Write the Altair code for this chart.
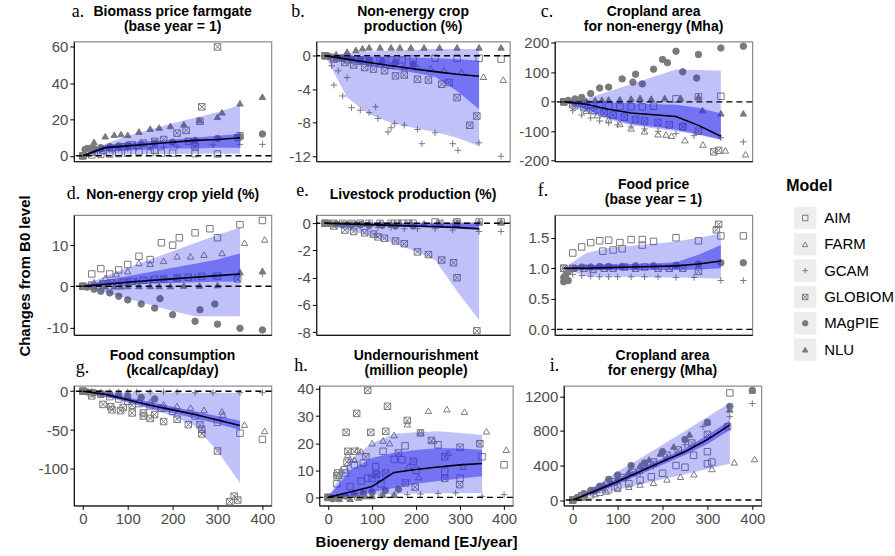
import altair as alt
import pandas as pd

MODELS = ["AIM", "FARM", "GCAM", "GLOBIOM", "MAgPIE", "NLU"]
SHAPES = ["square", "triangle-up", "M-1,0L1,0M0,-1L0,1",
          "M-1,-1L1,-1L1,1L-1,1Z M-1,-1L1,1 M-1,1L1,-1", "circle", "triangle-up"]
FILLS = ["transparent", "transparent", "transparent", "transparent", "#7a7a7a", "#7a7a7a"]
GRAY = "#7a7a7a"

# bioenergy demand (EJ/year) of each model's scenarios
X = {
    "AIM": [0, 20, 40, 60, 80, 100, 125, 150, 175, 200, 250, 300, 350, 400],
    "FARM": [0, 25, 50, 75, 100, 125, 150, 180, 210, 240, 270, 310, 360, 405],
    "GCAM": [0, 20, 40, 60, 80, 100, 120, 150, 180, 210, 250, 290, 350, 400],
    "GLOBIOM": [0, 20, 45, 65, 90, 110, 135, 160, 180, 210, 235, 265, 300, 345],
    "MAgPIE": [0, 10, 25, 40, 60, 80, 100, 130, 160, 200, 250, 300, 350, 400],
    "NLU": [0, 25, 50, 70, 85, 100, 125, 150, 170, 195, 225, 260, 300, 350, 400],
}
BAND_X = [0, 50, 100, 150, 200, 250, 300, 350]

# a. Biomass price farmgate
PTS_A = {
    "AIM": [0, 0.5, 0.8, 1.0, 1.2, 1.5, 2.3, 1.8, 1.5, 1.5, 1.2, 1.0, 11, None],
    "GCAM": [0, 2.5, 3, 3.5, 3.8, 4, 4.2, 4.5, 4.8, 5, 5.5, 6, 6.3, 6.3],
    "GLOBIOM": [0, 2, 3, 4, 5, 6, 7, 8, 9, 12.5, 8, 27, 60, 10],
    "MAgPIE": [0, 4, 4, 4.5, 5, 5.5, 6, 6.5, 7, 7.5, 8.5, 9.5, 10.5, 12],
    "NLU": [0, 7.7, 10.8, 11.6, 12, 11.6, 13.4, 15, 15.6, 16.5, 17.4, 19.7, 21.5, 29, 32.6],
}
EXTRA_A = [("GLOBIOM", 261, 19), ("GLOBIOM", 230, 14), ("NLU", 310, 24), ("MAgPIE", 5, 3.5),
           ("MAgPIE", 18, 4.2), ("AIM", 160, 3), ("GLOBIOM", 250, 5)]
BAND_A = {
    "outer_lo": [0, 0.5, 0.8, 1, 1, 1.2, 1.2, 1.2],
    "outer_hi": [0, 6.5, 11, 14.5, 18, 21, 24, 28],
    "inner_lo": [0, 2.5, 3, 3.5, 4, 4, 4.5, 4.5],
    "inner_hi": [0, 6, 7, 8, 9, 10, 11, 12],
    "median": [0, 4.5, 5.5, 6.5, 7.5, 8.5, 9, 10],
}

# b. Non-energy crop production (%)
PTS_B = {
    "AIM": [0, -0.2, -0.3, -0.5, -0.5, -0.6, -0.6, -0.5, -0.5, -0.4, -0.3, -0.3, -0.3, -0.4],
    "FARM": [0, -0.3, -0.5, -0.7, -0.9, -1.0, -1.2, -1.3, -1.4, -1.5, -1.7, -1.9, -2.5, -2.85],
    "GCAM": [0, -3.5, -4.8, -6.2, -6.5, -6.8, -7.5, -8.6, -8.3, -8.8, -9.2, -10.5, -10.4, -12],
    "GLOBIOM": [0, -0.4, -0.8, -1.1, -1.4, -1.6, -1.8, -2.4, -2.3, -2.8, -2.9, -3.4, -5.0, -7.2],
    "MAgPIE": [0, -0.1, -0.2, -0.3, -0.4, -0.5, -0.6, -0.7, -0.8, -1.0, None, None, None, None],
    "NLU": [0, 0.2, 0.5, 0.7, 0.9, 1, 1, 1, 1, 1, 1, 1, 1, 1, 1],
}
EXTRA_B = [("GCAM", 15, -1.2), ("GCAM", 30, -1.8), ("GCAM", 50, -2.6), ("GCAM", 115, -6.1),
           ("GCAM", 143, -9.1), ("GCAM", 158, -8.1), ("GCAM", 220, -10.5), ("GCAM", 302, -11.3),
           ("GLOBIOM", 329, -8.3), ("GLOBIOM", 282, -3.2)]
BAND_B = {
    "outer_lo": [0, -5, -7, -8, -8.6, -9.1, -9.8, -10.8],
    "outer_hi": [0, 0.3, 0.5, 0.6, 0.7, 0.8, 0.8, 0.8],
    "inner_lo": [0, -0.6, -1.2, -1.6, -2.0, -2.5, -4.2, -6.4],
    "inner_hi": [0, 0, -0.1, -0.1, -0.2, -0.3, -0.4, -0.6],
    "median": [0, -0.4, -0.8, -1.2, -1.55, -1.9, -2.2, -2.45],
}

# c. Cropland area for non-energy (Mha)
PTS_C = {
    "AIM": [0, -3, -6, -9, -12, -14, -16, -17, -17, -15, 10, 17, 19, None],
    "FARM": [0, -15, -30, -45, -60, -75, -90, -100, -110, -115, -130, -145, -165, -178],
    "GCAM": [0, -30, -45, -55, -65, -72, -78, -85, -92, -100, -108, -115, -122, -136],
    "GLOBIOM": [0, -10, -20, -30, -38, -45, -52, -60, -65, -70, -78, -85, -100, -165],
    "MAgPIE": [0, 5, 10, 15, 28, 47, 50, 78, 94, 111, 172, 161, 183, 189],
    "NLU": [0, 2, 4, 6, 7, 8, 9, 11, 13, 11, 13, 14, 17, -39, -39],
}
EXTRA_C = [("MAgPIE", 265, 102), ("MAgPIE", 296, 81), ("MAgPIE", 175, 61), ("MAgPIE", 154, 67),
           ("MAgPIE", 220, 144), ("MAgPIE", 231, 133), ("FARM", 228, -111), ("GLOBIOM", 334, -170),
           ("GLOBIOM", 265, -83), ("NLU", 309, -28)]
BAND_C = {
    "outer_lo": [0, -35, -60, -80, -90, -100, -112, -130],
    "outer_hi": [0, 10, 35, 60, 85, 110, 108, 106],
    "inner_lo": [0, -25, -55, -75, -85, -95, -110, -128],
    "inner_hi": [0, 0, -2, -5, -8, -10, -20, -40],
    "median": [0, -8, -25, -38, -44, -50, -80, -117],
}

# d. Non-energy crop yield (%)
PTS_D = {
    "AIM": [0, 3, 4.3, 3, 4, 5.3, 7.3, 6.5, 10.6, 10, 13, 11.8, 15, 16],
    "FARM": [0, 1, 2, 3, 3.7, 5.7, 5.5, 6.2, 7.3, 7.3, 7.7, 8.1, 10.6, 11.4],
    "GCAM": [0, 0.3, 0.5, 0.8, 1, 1.2, 1.4, 1.6, 1.8, 2, 2.2, 2.5, 2.8, 3],
    "GLOBIOM": [0, 0.3, 0.6, 0.8, 1, 1.2, 1.5, 1.7, 1.8, 2.0, 2.2, 2.4, 2.5, 1.8],
    "MAgPIE": [0, -0.2, -0.7, -1.2, -1.6, -2.4, -3.3, -4.3, -5.3, -6.9, -8.5, -9.2, -10.2, -10.6],
    "NLU": [0, 0, 0, 0, 0, 0.1, 0.1, 0.1, 0.1, 0.1, 0.2, 0.2, 0.3, 3.5, 3.8],
}
EXTRA_D = [("MAgPIE", 172, -3), ("MAgPIE", 261, -5.7), ("MAgPIE", 294, -4.3), ("AIM", 283, 14),
           ("AIM", 215, 11.8)]
BAND_D = {
    "outer_lo": [0, -1.5, -3, -4.5, -6, -7.3, -7.3, -7.3],
    "outer_hi": [0, 2.5, 4.5, 6.5, 8.5, 10.5, 12.5, 14.3],
    "inner_lo": [0, 0.2, 0.4, 0.6, 0.8, 1, 1.1, 1.2],
    "inner_hi": [0, 1.5, 2.5, 3.5, 4.5, 5.5, 6.5, 8],
    "median": [0, 0.5, 1, 1.4, 1.8, 2.2, 2.6, 3],
}

# e. Livestock production (%)
PTS_E = {
    "AIM": [0, 0, 0, 0, 0, 0, 0, 0, 0, 0, 0.1, 0.1, 0.1, 0.1],
    "GCAM": [0, -0.1, -0.1, -0.2, -0.2, -0.2, -0.3, -0.3, -0.4, -0.4, -0.4, -0.5, -0.6, -0.6],
    "GLOBIOM": [0, -0.2, -0.5, -0.6, -0.7, -0.8, -1.1, -1.3, -1.5, -2.1, -2.3, -2.7, -4.0, -7.9],
    "MAgPIE": [0, 0, -0.05, -0.1, -0.1, -0.1, -0.15, -0.15, -0.2, -0.2, None, None, None, None],
    "NLU": [0, 0, 0, 0, 0, 0, 0, 0, 0, 0, 0, 0, 0.05, 0.1, 0.1],
}
EXTRA_E = [("GLOBIOM", 292, -2.9), ("GLOBIOM", 261, 0), ("GLOBIOM", 298, 0), ("GLOBIOM", 165, 0),
           ("GLOBIOM", 190, 0), ("GLOBIOM", 120, -1.0)]
BAND_E = {
    "outer_lo": [0, -0.5, -0.9, -1.4, -2.0, -2.7, -5.0, -7.1],
    "outer_hi": [0, 0.05, 0.05, 0.05, 0.05, 0.05, 0.1, 0.1],
    "inner_lo": [0, -0.1, -0.15, -0.2, -0.25, -0.3, -0.4, -0.5],
    "inner_hi": [0, 0, 0, 0, 0, 0, 0, 0],
    "median": [0, -0.05, -0.1, -0.15, -0.2, -0.25, -0.3, -0.4],
}

# f. Food price (base year = 1)
PTS_F = {
    "AIM": [1.0, 1.25, 1.35, 1.42, 1.45, 1.46, 1.42, 1.47, 1.47, 1.44, 1.50, 1.45, 1.53, 1.53],
    "GCAM": [1.0, 0.9, 0.88, 0.87, 0.86, 0.86, 0.86, 0.86, 0.86, 0.86, 0.85, 0.85, 0.80, 0.80],
    "GLOBIOM": [1.0, 1.0, 1.0, 0.98, 1.0, 1.0, 1.02, 1.0, 1.02, 1.0, 1.0, 1.0, 0.95, 1.72],
    "MAgPIE": [0.85, 0.95, 1.0, 1.02, 1.02, 1.03, 1.03, 1.03, 1.04, 1.04, 1.05, 1.07, 1.09, 1.09],
}
EXTRA_F = [("GLOBIOM", 340, 1.63), ("AIM", 87, 1.28), ("AIM", 110, 1.3), ("AIM", 130, 1.32),
           ("AIM", 175, 1.38), ("MAgPIE", 0, 0.78), ("MAgPIE", 5, 0.9), ("MAgPIE", 10, 0.8)]
BAND_F = {
    "outer_lo": [1.0, 0.87, 0.86, 0.86, 0.85, 0.85, 0.84, 0.83],
    "outer_hi": [1.0, 1.25, 1.33, 1.37, 1.4, 1.44, 1.5, 1.57],
    "inner_lo": [1.0, 0.97, 0.97, 0.97, 0.97, 0.97, 0.98, 1.0],
    "inner_hi": [1.0, 1.05, 1.06, 1.07, 1.08, 1.1, 1.22, 1.38],
    "median": [1.0, 1.0, 1.01, 1.02, 1.03, 1.04, 1.07, 1.12],
}

# g. Food consumption (kcal/cap/day)
PTS_G = {
    "AIM": [0, -2, -4, -7, -10, -13, -16, -19, -22, -26, -32, -40, -54, -62],
    "FARM": [0, -1, -3, -5, -8, -11, -14, -17, -19, -21, -24, -26, -43, -51],
    "GCAM": [0, 0, -1, -1, -1, -1, -1, -1, -1, -1, -2, -2, -2, -2],
    "GLOBIOM": [0, -6, -17, -24, -21, -28, -32, -30, -39, -36, -43, -49, -77, -140],
    "MAgPIE": [0, -1, -2, -3, -4, -5, -6, -8, -10, None, None, None, None, None],
}
EXTRA_G = [("GLOBIOM", 337, -135), ("GLOBIOM", 327, -142), ("GLOBIOM", 261, -43),
           ("GLOBIOM", 150, -35), ("GLOBIOM", 265, -55), ("GLOBIOM", 62, -20), ("GLOBIOM", 84, -25),
           ("GLOBIOM", 110, -18), ("GLOBIOM", 135, -28), ("FARM", 312, -30)]
BAND_G = {
    "outer_lo": [0, -7, -15, -23, -32, -45, -77, -118],
    "outer_hi": [0, -1, -2, -2, -2, -2, -2, -2],
    "inner_lo": [0, -6, -14, -22, -28, -35, -42, -50],
    "inner_hi": [0, -2, -8, -14, -20, -26, -32, -38],
    "median": [0, -4, -11, -18, -24, -30, -37, -44],
}

# h. Undernourishment (million people)
PTS_H = {
    "AIM": [0, 5, 9, 12, 12.7, 7, 17, 14, 19, 10, 19.4, 7.1, 15, 12],
    "FARM": [0, 8, 14, 17, 20, 21, 23, 27, 24, 21, 32.6, 31.6, 24.4, 17.6],
    "GCAM": [0, 0.2, 0.3, 0.4, 0.5, 0.5, 0.8, 1, 1, 1.2, 1.4, 1.6, 0.4, 1.0],
    "GLOBIOM": [0, 8, 17, 31, 39.5, 8.5, 33.6, 16.4, 28.4, 23.8, 21, 15, 18.5, 19.8],
    "MAgPIE": [0, -0.5, -0.5, 0.5, 1, 1.5, 2, 2.5, 3, None, None, None, None, None],
    "NLU": [0, -0.5, -0.5, 0, 0.5, 0.5, 1, 1, None, None, None, None, None, None, None],
}
EXTRA_H = [("GLOBIOM", 41, 24), ("GLOBIOM", 43, 13), ("GLOBIOM", 97, 24), ("GLOBIOM", 131, 24.4),
           ("GLOBIOM", 131, 9), ("GLOBIOM", 108, 8.4), ("GLOBIOM", 176, 5.3), ("GLOBIOM", 198, 3.8),
           ("GLOBIOM", 194, 13.3), ("GLOBIOM", 265, 7), ("GLOBIOM", 299, 4.7), ("GLOBIOM", 86, 15),
           ("GLOBIOM", 22, 9), ("GLOBIOM", 60, 17),
           ("FARM", 228, 32), ("FARM", 273, 16.4), ("FARM", 307, 11.4), ("FARM", 206, 7.5),
           ("FARM", 183, 11.4), ("FARM", 140, 20), ("FARM", 45, 15.8), ("FARM", 60, 13.9),
           ("FARM", 67, 17.6), ("FARM", 30, 10),
           ("AIM", 37, 10.2), ("AIM", 90, 7.1), ("AIM", 108, 11.4), ("AIM", 168, 13.9),
           ("AIM", 265, 9.6), ("AIM", 75, 6), ("AIM", 50, 4), ("AIM", 120, 5)]
BAND_H = {
    "outer_lo": [0, 0.5, 1, 1.2, 1.4, 1.5, 1.6, 1.6],
    "outer_hi": [0, 14, 20, 23.5, 24, 24.4, 23.8, 23],
    "inner_lo": [0, 0.5, 2, 3.5, 5, 6, 7, 7.8],
    "inner_hi": [0, 10, 14.5, 16.5, 17.5, 18.2, 18, 17.6],
    "median": [0, 2, 4, 9.2, 10.3, 11.2, 12, 12.5],
}

# i. Cropland area for energy (Mha)
PTS_I = {
    "AIM": [0, 30, 60, 90, 120, 150, 190, 230, 270, 310, 380, 420, 1240, None],
    "FARM": [0, 40, 70, 100, 130, 155, 180, 200, 240, 270, 300, 360, 437, 475],
    "GCAM": [0, 40, 80, 120, 170, 200, 250, 310, 390, 480, 640, 850, 965, 1117],
    "GLOBIOM": [0, 50, 110, 150, 210, 260, 320, 390, 440, 520, 580, 660, 760, 850],
    "MAgPIE": [0, 30, 75, 110, 160, 240, 290, 400, 430, 560, 700, 900, 1085, 1270],
    "NLU": [0, 60, 120, 180, 220, 260, 330, 400, 470, 540, 620, 760, 900, 1050, 1270],
}
EXTRA_I = [("AIM", 300, 560), ("AIM", 230, 400), ("AIM", 269, 518), ("AIM", 310, 440)]
BAND_I = {
    "outer_lo": [0, 60, 120, 180, 240, 300, 360, 420],
    "outer_hi": [0, 160, 330, 480, 640, 800, 960, 1125],
    "inner_lo": [0, 85, 185, 295, 410, 520, 650, 810],
    "inner_hi": [0, 125, 245, 365, 480, 600, 750, 920],
    "median": [0, 105, 215, 330, 445, 560, 700, 870],
}

X_TICKS = [0, 100, 200, 300, 400]
FONT = "Liberation Sans"
PLAIN = "'' + datum.value"


def panel(pts, extra, band, ydom, yticks, title, title_y, letter, lx, ly, width,
          bottom=False, xtitle=None, ylabel=PLAIN):
    rows = []
    for m, ys in pts.items():
        for x, y in zip(X[m], ys):
            if y is not None:
                rows.append({"model": m, "x": x, "y": y})
    for m, x, y in extra:
        rows.append({"model": m, "x": x, "y": y})
    df = pd.DataFrame(rows)
    bdf = pd.DataFrame({"x": BAND_X, **band})

    xs = alt.Scale(domain=[-20, 420], nice=False, zero=False)
    ys_ = alt.Scale(domain=ydom, nice=False, zero=False)
    if bottom:
        if xtitle:
            xa = alt.Axis(values=X_TICKS, title=xtitle, titleFontSize=15, titleFontWeight="bold",
                          titleColor="black", titleFont=FONT, titlePadding=8)
        else:
            xa = alt.Axis(values=X_TICKS, title=None)
    else:
        xa = alt.Axis(labels=False, ticks=False, title=None)
    ya = alt.Axis(values=yticks, title=None, labelExpr=ylabel)

    X_ = alt.X("x:Q", scale=xs, axis=xa)
    points = alt.Chart(df).mark_point(size=42, stroke=GRAY, strokeWidth=1, opacity=1).encode(
        x=X_,
        y=alt.Y("y:Q", scale=ys_, axis=ya),
        shape=alt.Shape("model:N", scale=alt.Scale(domain=MODELS, range=SHAPES), legend=None),
        fill=alt.Fill("model:N", scale=alt.Scale(domain=MODELS, range=FILLS), legend=None),
    )
    outer = alt.Chart(bdf).mark_area(color="#3333ee", opacity=0.3).encode(
        x=X_, y=alt.Y("outer_lo:Q", scale=ys_, axis=ya), y2="outer_hi:Q")
    inner = alt.Chart(bdf).mark_area(color="#3333ee", opacity=0.55).encode(
        x=X_, y=alt.Y("inner_lo:Q", scale=ys_, axis=ya), y2="inner_hi:Q")
    zero = alt.Chart(pd.DataFrame({"y": [0]})).mark_rule(
        color="black", strokeDash=[6, 4], strokeWidth=1.4).encode(
        y=alt.Y("y:Q", scale=ys_, axis=ya))
    med = alt.Chart(bdf).mark_line(color="black", strokeWidth=1.6).encode(
        x=X_, y=alt.Y("median:Q", scale=ys_, axis=ya))
    layers = [points, outer, inner, zero, med]
    lab = alt.Chart(pd.DataFrame({"t": [letter]})).mark_text(
        font="Liberation Serif", fontSize=18, align="left", baseline="middle", color="black").encode(
        text="t:N", x=alt.value(lx), y=alt.value(ly))
    layers.append(lab)
    for line, ty in zip(title, title_y):
        layers.append(alt.Chart(pd.DataFrame({"t": [line]})).mark_text(
            font=FONT, fontSize=14, fontWeight="bold", align="center", baseline="middle",
            color="black").encode(text="t:N", x=alt.value(width / 2), y=alt.value(ty)))
    return alt.layer(*layers).properties(width=width, height=120)


W1, W2, W3 = 198, 194, 198
T2 = [-30, -15]
T1 = [-20]
pa = panel(PTS_A, EXTRA_A, BAND_A, [-3, 63], [0, 20, 40, 60],
           ["Biomass price farmgate", "(base year = 1)"], T2, "a.", -2, -30, W1)
pb = panel(PTS_B, EXTRA_B, BAND_B, [-12.6, 1.7], [0, -4, -8, -12],
           ["Non-energy crop", "production (%)"], T2, "b.", -25, -30, W2)
pc = panel(PTS_C, EXTRA_C, BAND_C, [-202, 205], [200, 100, 0, -100, -200],
           ["Cropland area", "for non-energy (Mha)"], T2, "c.", -14, -30, W3)
pd_ = panel(PTS_D, EXTRA_D, BAND_D, [-11.8, 17.3], [10, 0, -10],
            ["Non-energy crop yield (%)"], T1, "d.", -7, -21, W1)
pe = panel(PTS_E, EXTRA_E, BAND_E, [-8.2, 0.6], [0, -2, -4, -6, -8],
           ["Livestock production (%)"], T1, "e.", -20, -24, W2)
pf = panel(PTS_F, EXTRA_F, BAND_F, [-0.09, 1.87], [0.0, 0.5, 1.0, 1.5],
           ["Food price", "(base year = 1)"], T2, "f.", -17, -24, W3,
           ylabel="format(datum.value, '.1f')")
pg = panel(PTS_G, EXTRA_G, BAND_G, [-147, 7], [0, -50, -100],
           ["Food consumption", "(kcal/cap/day)"], T2, "g.", 2, -18, W1, bottom=True)
ph = panel(PTS_H, EXTRA_H, BAND_H, [-3, 41.2], [0, 10, 20, 30, 40],
           ["Undernourishment", "(million people)"], T2, "h.", -25, -20, W2, bottom=True,
           xtitle="Bioenergy demand [EJ/year]")
pi = panel(PTS_I, EXTRA_I, BAND_I, [-63, 1323], [0, 400, 800, 1200],
           ["Cropland area", "for energy (Mha)"], T2, "i.", -14, -20, W3, bottom=True)

grid = alt.vconcat(
    alt.hconcat(pa, pb, pc, spacing=6),
    alt.hconcat(pd_, pe, pf, spacing=6),
    alt.hconcat(pg, ph, pi, spacing=6),
    spacing=7,
).properties(title=alt.TitleParams(text="Changes from B0 level", orient="left", anchor="middle",
                                   fontSize=15, fontWeight="bold", font=FONT, color="black",
                                   offset=4))

# legend drawn as its own small panel
ldf = pd.DataFrame({"model": MODELS, "idx": list(range(len(MODELS)))})
hdf = pd.DataFrame({"t": ["Model"], "idx": [-1.2]})
lys = alt.Scale(domain=[-6.70, 10.84], reverse=True, nice=False, zero=False)
LY = alt.Y("idx:Q", scale=lys, axis=None)
keys = alt.Chart(ldf).mark_square(size=500, color="#ededed", opacity=1).encode(
    x=alt.value(19), y=LY)
syms = alt.Chart(ldf).mark_point(size=30, stroke=GRAY, strokeWidth=1, opacity=1).encode(
    x=alt.value(19), y=LY,
    shape=alt.Shape("model:N", scale=alt.Scale(domain=MODELS, range=SHAPES), legend=None),
    fill=alt.Fill("model:N", scale=alt.Scale(domain=MODELS, range=FILLS), legend=None))
labels = alt.Chart(ldf).mark_text(align="left", baseline="middle", fontSize=15, font=FONT,
                                  color="black").encode(x=alt.value(38), y=LY, text="model:N")
header = alt.Chart(hdf).mark_text(align="left", baseline="middle", fontSize=16, font=FONT,
                                  fontWeight="bold", color="black").encode(
    x=alt.value(0), y=LY, text="t:N")
legend = alt.layer(keys, syms, labels, header).properties(
    width=100, height=463, view=alt.ViewBackground(stroke="transparent"))

chart = alt.hconcat(grid, legend, spacing=19).properties(
    padding={"left": 18, "top": 1, "right": 0, "bottom": 0}
).configure_view(stroke="#8c8c8c", strokeWidth=1.2).configure_axis(
    grid=False, domainColor="black", domainWidth=1, tickColor="black", tickSize=4,
    labelFontSize=15, labelColor="#4d4d4d", labelFont=FONT, labelPadding=2
).configure_axisY(minExtent=36, maxExtent=36).configure_concat(spacing=6)

chart.save("out.html", embed_options={"renderer": "svg", "actions": False})
